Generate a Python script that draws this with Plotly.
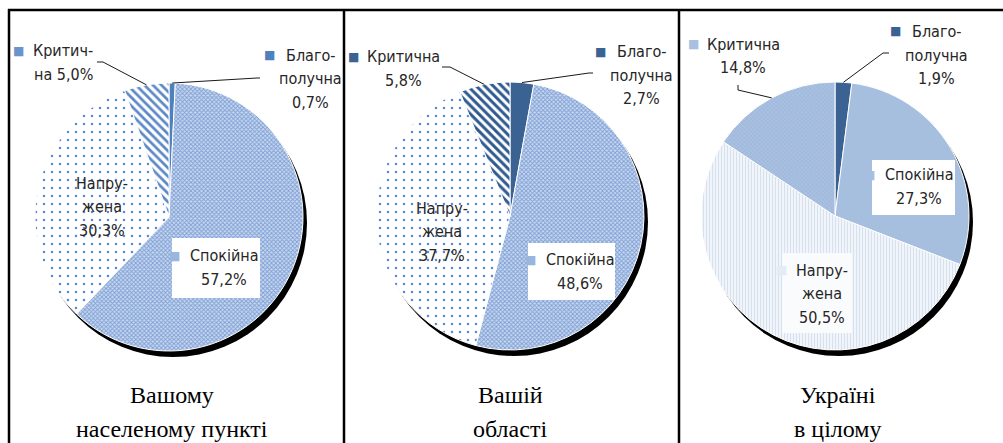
import math
import plotly.graph_objects as go

W, H = 1003, 443

# ---------------- data ----------------
categories = ["Благополучна", "Спокійна", "Напружена", "Критична"]
values_settlement = [0.7, 57.2, 30.3, 5.0]
values_region = [2.7, 48.6, 37.7, 5.8]
values_ukraine = [1.9, 27.3, 50.5, 14.8]
pie_values = [values_settlement, values_region, values_ukraine]

titles = [["Вашому", "населеному пункті"], ["Вашій", "області"], ["Україні", "в цілому"]]
label_names = [
    [["Благо-", "получна"], ["Спокійна"], ["Напру-", "жена"], ["Критич-", "на"]],
    [["Благо-", "получна"], ["Спокійна"], ["Напру-", "жена"], ["Критична"]],
    [["Благо-", "получна"], ["Спокійна"], ["Напру-", "жена"], ["Критична"]],
]
value_inline = [[False, False, False, True], [False] * 4, [False] * 4]

# ---------------- layout / style ----------------
centers = [(169, 217), (510, 216), (835, 216)]
R = 134
SHADOW_DX, SHADOW_DY = 4, 6
title_x = [172, 510, 838]
title_y = [395, 429]
LINE_H = 23.5

styles = [
    dict(bg=["#4f81bd", "#c9d8ef", "#ffffff", "#ffffff"],
         fg=["#4f81bd", "#7d9fd6", "#5a8ad2", "#5c88c6"],
         shape=["", "x", ".", "\\"],
         size=[8, 3, 8, 6], solidity=[0.3, 0.5, 0.08, 0.45],
         keys=["#4f81bd", "#9bb5dc", None, "#6a93cc"]),
    dict(bg=["#3a6394", "#c9d8ef", "#ffffff", "#ffffff"],
         fg=["#3a6394", "#7d9fd6", "#5a8ad2", "#2f5a8f"],
         shape=["", "x", ".", "\\"],
         size=[8, 3, 8, 6], solidity=[0.3, 0.5, 0.08, 0.5],
         keys=["#3a6394", "#9bb5dc", None, "#3a6394"]),
    dict(bg=["#3a6394", "#a7bfdf", "#f4f7fb", "#a9c0e0"],
         fg=["#3a6394", "#a7bfdf", "#d6e1f0", "#98b3d8"],
         shape=["", "", "|", "x"],
         size=[8, 8, 3, 3], solidity=[0.3, 0.3, 0.4, 0.3],
         keys=["#3a6394", "#a7bfdf", "#e4ebf5", "#a9c0e0"]),
]

label_pos = [
    [(310, 78.5), (224, 267.5), (102, 207), (63, 62.5)],
    [(641, 75), (580, 271.5), (442, 231.5), (403, 68.5)],
    [(936, 55), (919, 186.5), (822, 293.5), (743, 56)],
]
label_box = [
    [None, (172, 238, 260, 298), None, None],
    [None, (528, 243, 615, 300), None, None],
    [None, (872, 160, 955, 215), (782, 253, 852, 333), None],
]
box_color = [[None, "white", None, None], [None, "white", None, None],
             [None, "white", "#fafbfd", None]]
leaders = [
    {0: [(260, 78), (257, 78)], 3: [(97, 62), (103, 62)]},
    {0: [(593, 73), (589, 73)], 3: [(442, 67), (450, 67)]},
    {0: [(889, 53), (883, 53)], 3: [(738, 85), (738, 90)]},
]

LABEL_FONT = "Liberation Sans Narrow, Arial Narrow, DejaVu Sans Condensed, sans-serif"
TITLE_FONT = "Liberation Serif, Times New Roman, serif"
TEXT_COLOR = "#262626"
LABEL_SIZE = 16
KEY_GAP = 7


def px(x):
    return x / W


def py(y):
    return 1 - y / H


def fmt(v):
    return f"{v:.1f}".replace(".", ",") + "%"


fig = go.Figure()
shapes = []
annotations = []

for i, vals in enumerate(pie_values):
    cx, cy = centers[i]
    st = styles[i]
    # drop shadow disc behind the pie
    sx, sy = cx + SHADOW_DX, cy + SHADOW_DY
    shapes.append(dict(type="circle", xref="paper", yref="paper", layer="below",
                       x0=px(sx - R), x1=px(sx + R), y0=py(sy + R), y1=py(sy - R),
                       fillcolor="#000000", line=dict(width=0)))
    fig.add_trace(go.Pie(
        values=vals, labels=categories, sort=False, direction="clockwise", rotation=0,
        marker=dict(
            colors=st["bg"],
            line=dict(color="white", width=1),
            pattern=dict(shape=st["shape"], fgcolor=st["fg"], bgcolor=st["bg"],
                         size=st["size"], solidity=st["solidity"], fillmode="replace"),
        ),
        textinfo="none", hoverinfo="skip",
        domain=dict(x=[px(cx - R), px(cx + R)], y=[py(cy + R), py(cy - R)]),
        showlegend=False,
    ))

    total = sum(vals)
    cum = 0.0
    for j, v in enumerate(vals):
        mid = (cum + v / 2) / total * 2 * math.pi
        cum += v
        key = st["keys"][j]
        lines = list(label_names[i][j])
        if value_inline[i][j]:
            lines[-1] = lines[-1] + " " + fmt(v)
        else:
            lines.append(fmt(v))
        if label_box[i][j]:
            x0, y0, x1, y1 = label_box[i][j]
            shapes.append(dict(type="rect", xref="paper", yref="paper", layer="above",
                               x0=px(x0), x1=px(x1), y0=py(y1), y1=py(y0),
                               fillcolor=box_color[i][j], line=dict(width=0)))
        lx, ly = label_pos[i][j]
        n = len(lines)
        for k, line in enumerate(lines):
            yy = ly + (k - (n - 1) / 2) * LINE_H
            annotations.append(dict(
                x=px(lx), y=py(yy),
                xref="paper", yref="paper", xanchor="center", yanchor="middle",
                text=line, showarrow=False,
                font=dict(family=LABEL_FONT, size=LABEL_SIZE, color=TEXT_COLOR),
            ))
            if k == 0 and key:
                half = len(line) * LABEL_SIZE * 0.27
                annotations.append(dict(
                    x=px(lx - half - KEY_GAP), y=py(yy),
                    xref="paper", yref="paper", xanchor="right", yanchor="middle",
                    text="■", showarrow=False,
                    font=dict(family="DejaVu Sans", size=12, color=key),
                ))
        if j in leaders[i]:
            ex = cx + R * math.sin(mid)
            ey = cy - R * math.cos(mid)
            pts = leaders[i][j] + [(ex, ey)]
            path = "M " + " L ".join(f"{px(a)},{py(b)}" for a, b in pts)
            shapes.append(dict(type="path", path=path, xref="paper", yref="paper",
                               layer="above", line=dict(color="#1a1a1a", width=1)))

    for k, t in enumerate(titles[i]):
        annotations.append(dict(
            x=px(title_x[i]), y=py(title_y[k]), xref="paper", yref="paper",
            xanchor="center", yanchor="middle", text=t, showarrow=False,
            font=dict(family=TITLE_FONT, size=24, color="#000000"),
        ))

border = dict(color="#000000", width=2.5)
shapes += [
    dict(type="line", xref="paper", yref="paper", x0=px(8), x1=1, y0=py(10), y1=py(10), line=border),
    dict(type="line", xref="paper", yref="paper", x0=px(9), x1=px(9), y0=py(9), y1=0, line=border),
    dict(type="line", xref="paper", yref="paper", x0=px(344), x1=px(344), y0=py(9), y1=0, line=border),
    dict(type="line", xref="paper", yref="paper", x0=px(679), x1=px(679), y0=py(9), y1=0, line=border),
]

fig.update_layout(
    width=W, height=H, margin=dict(l=0, r=0, t=0, b=0),
    paper_bgcolor="white", plot_bgcolor="white", showlegend=False,
    shapes=shapes, annotations=annotations,
)

fig.write_html(
    "out.html",
    config={"displayModeBar": False},
    post_script="document.body.style.margin='0';document.body.style.overflow='hidden';",
)
